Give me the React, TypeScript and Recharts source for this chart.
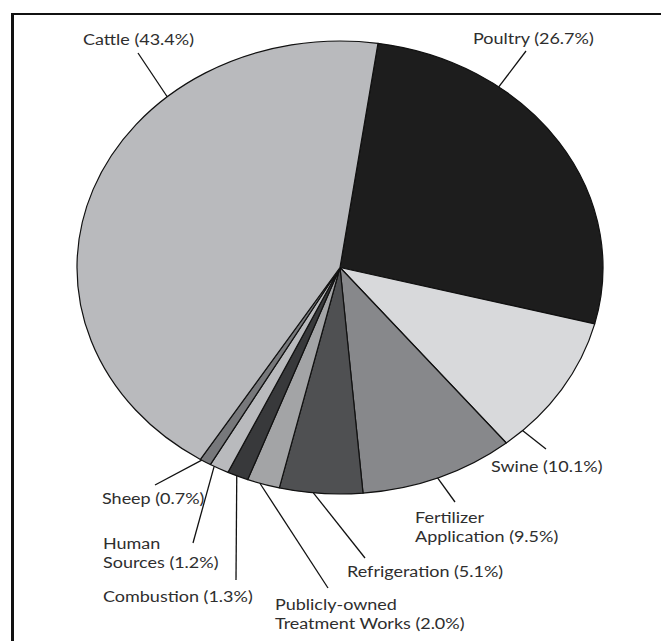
import React from 'react';
import { PieChart, Pie, Cell } from 'recharts';

// sources of ammonia emissions, clockwise from the top
const CATEGORIES = ['Poultry', 'Swine', 'Fertilizer Application', 'Refrigeration', 'Publicly-owned Treatment Works', 'Combustion', 'Human Sources', 'Sheep', 'Cattle'];
const SHARES = [26.7, 10.1, 9.5, 5.1, 2.0, 1.3, 1.2, 0.7, 43.4];
const LABEL_LINES = [
  ['Poultry (26.7%)'],
  ['Swine (10.1%)'],
  ['Fertilizer', 'Application (9.5%)'],
  ['Refrigeration (5.1%)'],
  ['Publicly-owned', 'Treatment Works (2.0%)'],
  ['Combustion (1.3%)'],
  ['Human', 'Sources (1.2%)'],
  ['Sheep (0.7%)'],
  ['Cattle (43.4%)'],
];

const FILLS = ['#1d1d1d', '#d8d9db', '#87888b', '#4f5052', '#a3a4a6', '#38393b', '#b9babd', '#77787b', '#b9babd'];

// where each label sits, and where along its slice the leader line leaves the rim (0..1)
const LABEL_LAYOUT = [
  { tx: 473, ty: 44, ex: 526, ey: 51, t: 0.30 },
  { tx: 491, ty: 472, ex: 546, ey: 449, t: 0.87 },
  { tx: 415, ty: 523, ex: 455, ey: 502, t: 0.51 },
  { tx: 347, ty: 577, ex: 365, ey: 558, t: 0.59 },
  { tx: 275, ty: 610, ex: 328, ey: 588, t: 0.61 },
  { tx: 103, ty: 602, ex: 236, ey: 580, t: 0.55 },
  { tx: 103, ty: 549, ex: 193, ey: 543, t: 0.78 },
  { tx: 102, ty: 504, ex: 155, ey: 485, t: 0.86 },
  { tx: 83, ty: 45, ex: 138, ey: 53, t: 0.684 },
];

const W = 661;
const H = 641;
const CX = 340;
const CY = 267.5;
const R = 263;
const K = 226.5 / 263; // the pie is squashed vertically
const TEXT_STRETCH = 1.2; // the text is stretched sideways like the pie
const RAD = Math.PI / 180;

const rim = (cx: number, cy: number, r: number, a: number) => ({
  x: cx + r * Math.cos(a * RAD),
  y: cy - K * r * Math.sin(a * RAD),
});

const chartData = CATEGORIES.map((name, i) => ({ name, value: SHARES[i] }));

function EllipseSector(props: any) {
  const { cx, cy, outerRadius, startAngle, endAngle, fill } = props;
  const p0 = rim(cx, cy, outerRadius, startAngle);
  const p1 = rim(cx, cy, outerRadius, endAngle);
  const large = Math.abs(endAngle - startAngle) > 180 ? 1 : 0;
  const sweep = endAngle < startAngle ? 1 : 0;
  const d = `M${cx},${cy} L${p0.x},${p0.y} A${outerRadius},${outerRadius * K} 0 ${large} ${sweep} ${p1.x},${p1.y} Z`;
  return <path d={d} fill={fill} stroke="#111" strokeWidth={1.2} strokeLinejoin="round" />;
}

function renderLabel(props: any) {
  const { cx, cy, outerRadius, startAngle, endAngle, index } = props;
  const lay = LABEL_LAYOUT[index];
  const a = startAngle + lay.t * (endAngle - startAngle);
  const s = rim(cx, cy, outerRadius, a);
  return (
    <g key={`lab-${index}`}>
      <line x1={s.x} y1={s.y} x2={lay.ex} y2={lay.ey} stroke="#111" strokeWidth={1.3} />
      <text transform={`translate(${lay.tx},${lay.ty}) scale(${TEXT_STRETCH},1)`} x={0} y={0}
        fill="#2e2e2e" fontSize={15} fontFamily="Lato, 'Open Sans', sans-serif">
        {LABEL_LINES[index].map((ln, j) => (
          <tspan key={j} x={0} dy={j === 0 ? 0 : 19}>{ln}</tspan>
        ))}
      </text>
    </g>
  );
}

export default function App() {
  return (
    <div style={{ position: 'absolute', left: 0, top: 0, width: W, height: H, background: '#fff', overflow: 'hidden' }}>
      <div style={{ position: 'absolute', left: 11, top: 13, width: W - 11, height: H - 13, borderTop: '2px solid #111', borderLeft: '3px solid #111', boxSizing: 'border-box' }} />
      <div style={{ position: 'absolute', left: 0, top: 0 }}>
        <PieChart width={W} height={H} margin={{ top: 0, right: 0, bottom: 0, left: 0 }}>
          <Pie
            data={chartData}
            dataKey="value"
            nameKey="name"
            cx={CX}
            cy={CY}
            outerRadius={R}
            startAngle={81.7}
            endAngle={81.7 - 360}
            shape={EllipseSector}
            label={renderLabel}
            labelLine={false}
            stroke="#111"
            isAnimationActive={false}
          >
            {chartData.map((_, i) => (
              <Cell key={i} fill={FILLS[i]} />
            ))}
          </Pie>
        </PieChart>
      </div>
    </div>
  );
}
